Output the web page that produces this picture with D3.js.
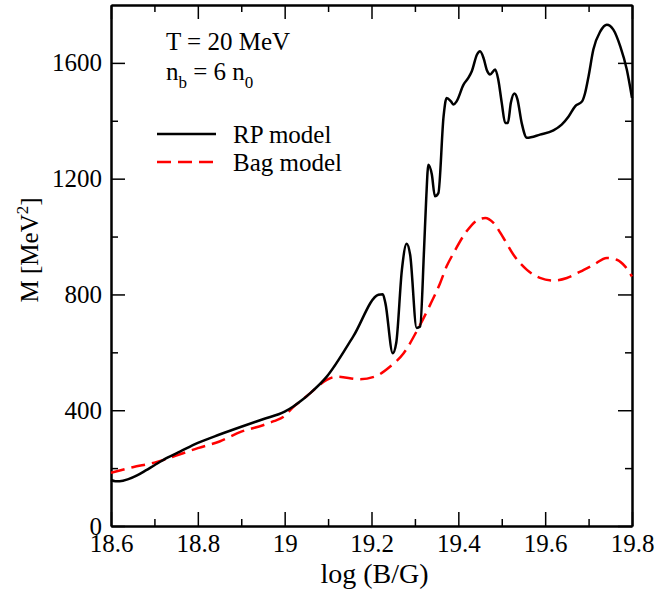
<!DOCTYPE html>
<html>
<head>
<meta charset="utf-8">
<script src="https://cdn.jsdelivr.net/npm/d3@7"></script>
<style>
  body { margin: 0; background: #fff; }
  text { font-family: "Liberation Serif", "Times New Roman", serif; }
</style>
</head>
<body>
<div id="chart"></div>
<script>
// RP model (black solid)
var rpX = [18.6, 18.61, 18.62, 18.64, 18.66, 18.68, 18.7, 18.73, 18.76, 18.8, 18.85, 18.9, 18.95, 19.0, 19.019, 19.04, 19.059, 19.097, 19.158, 19.216, 19.226, 19.232, 19.249, 19.257, 19.27, 19.281, 19.289, 19.304, 19.312, 19.321, 19.326, 19.331, 19.339, 19.346, 19.354, 19.366, 19.373, 19.383, 19.389, 19.396, 19.412, 19.423, 19.431, 19.443, 19.45, 19.458, 19.466, 19.473, 19.485, 19.492, 19.5, 19.508, 19.514, 19.521, 19.529, 19.536, 19.546, 19.558, 19.588, 19.619, 19.638, 19.654, 19.669, 19.685, 19.692, 19.7, 19.711, 19.727, 19.742, 19.757, 19.773, 19.788, 19.8]
var rpY = [159, 155, 155, 162, 175, 192, 210, 236, 258, 287, 316, 343, 369, 395, 412, 435, 459, 516, 655, 799, 801, 770, 597, 633, 885, 975, 937, 684, 689, 954, 1130, 1248, 1214, 1139, 1150, 1415, 1479, 1467, 1456, 1467, 1525, 1548, 1571, 1629, 1640, 1617, 1574, 1560, 1577, 1542, 1462, 1392, 1392, 1462, 1494, 1475, 1392, 1341, 1352, 1367, 1387, 1415, 1450, 1467, 1496, 1554, 1646, 1709, 1732, 1715, 1657, 1577, 1479]

// Bag model (red dashed)
var bagX = [18.6, 18.65, 18.7, 18.75, 18.8, 18.85, 18.9, 18.95, 18.975, 19.0, 19.019, 19.04, 19.059, 19.097, 19.12, 19.174, 19.212, 19.243, 19.274, 19.308, 19.335, 19.358, 19.373, 19.389, 19.419, 19.443, 19.462, 19.481, 19.504, 19.527, 19.558, 19.588, 19.619, 19.65, 19.681, 19.711, 19.742, 19.765, 19.784, 19.8]
var bagY = [184, 203, 219, 243, 269, 292, 326, 348, 362, 380, 410, 435, 459, 505, 516, 507, 519, 551, 597, 684, 764, 839, 897, 943, 1018, 1056, 1064, 1047, 995, 937, 885, 857, 848, 857, 879, 902, 926, 920, 897, 862]

var xTicks = [18.6, 18.8, 19, 19.2, 19.4, 19.6, 19.8]
var xMinor = [18.7, 18.9, 19.1, 19.3, 19.5, 19.7]
var yTicks = [0, 400, 800, 1200, 1600]
var yMinor = [200, 600, 1000, 1400]

var width = 657
	height = 595
	margin = {left: 111, right: 25, top: 5, bottom: 69}

var svg = d3.select("#chart")
	.append("svg")
	.attr("width", width)
	.attr("height", height)

var x = d3.scaleLinear()
	.domain([18.6, 19.8])
	.range([margin.left, width - margin.right])

var y = d3.scaleLinear()
	.domain([0, 1800])
	.range([height - margin.bottom, margin.top])

var fmt = function(d) { return String(d) }

// axes with inward ticks on all sides
function styleAxis(g) {
	g.attr("font-family", null).attr("font-size", null)
	g.selectAll("path").attr("stroke", "#000").attr("stroke-width", 2)
	g.selectAll("line").attr("stroke", "#000").attr("stroke-width", 1.5)
	g.selectAll("text").attr("font-size", 25).attr("fill", "#000")
}

svg.append("g")
	.attr("transform", "translate(0," + y(0) + ")")
	.call(d3.axisBottom(x).tickValues(xMinor).tickSize(-7).tickSizeOuter(0).tickFormat(""))
	.call(styleAxis)
svg.append("g")
	.attr("transform", "translate(0," + y(0) + ")")
	.call(d3.axisBottom(x).tickValues(xTicks).tickSize(-14).tickSizeOuter(0).tickPadding(8).tickFormat(fmt))
	.call(styleAxis)

svg.append("g")
	.attr("transform", "translate(0," + y(1800) + ")")
	.call(d3.axisTop(x).tickValues(xMinor).tickSize(-7).tickSizeOuter(0).tickFormat(""))
	.call(styleAxis)
svg.append("g")
	.attr("transform", "translate(0," + y(1800) + ")")
	.call(d3.axisTop(x).tickValues(xTicks).tickSize(-14).tickSizeOuter(0).tickFormat(""))
	.call(styleAxis)

svg.append("g")
	.attr("transform", "translate(" + x(18.6) + ",0)")
	.call(d3.axisLeft(y).tickValues(yMinor).tickSize(-7).tickSizeOuter(0).tickFormat(""))
	.call(styleAxis)
svg.append("g")
	.attr("transform", "translate(" + x(18.6) + ",0)")
	.call(d3.axisLeft(y).tickValues(yTicks).tickSize(-14).tickSizeOuter(0).tickPadding(9).tickFormat(fmt))
	.call(styleAxis)

svg.append("g")
	.attr("transform", "translate(" + x(19.8) + ",0)")
	.call(d3.axisRight(y).tickValues(yMinor).tickSize(-7).tickSizeOuter(0).tickFormat(""))
	.call(styleAxis)
svg.append("g")
	.attr("transform", "translate(" + x(19.8) + ",0)")
	.call(d3.axisRight(y).tickValues(yTicks).tickSize(-14).tickSizeOuter(0).tickFormat(""))
	.call(styleAxis)

// curves
var line = d3.line()
	.x(function(d) { return x(d[0]) })
	.y(function(d) { return y(d[1]) })
	.curve(d3.curveMonotoneX)

svg.append("path")
	.datum(d3.zip(bagX, bagY))
	.attr("d", line)
	.attr("fill", "none")
	.attr("stroke", "#ff0000")
	.attr("stroke-width", 2.5)
	.attr("stroke-dasharray", "14,7")

svg.append("path")
	.datum(d3.zip(rpX, rpY))
	.attr("d", line)
	.attr("fill", "none")
	.attr("stroke", "#000")
	.attr("stroke-width", 2.5)

// axis titles
svg.append("text")
	.attr("x", (x(18.6) + x(19.8)) / 2 + 3)
	.attr("y", 583)
	.attr("text-anchor", "middle")
	.attr("font-size", 28)
	.text("log (B/G)")

var yl = svg.append("text")
	.attr("transform", "translate(38,250) rotate(-90)")
	.attr("text-anchor", "middle")
	.attr("font-size", 25)
yl.append("tspan").text("M [MeV")
yl.append("tspan").attr("font-size", 17).attr("dy", -10).text("2")
yl.append("tspan").attr("dy", 10).text("]")

// annotations
svg.append("text")
	.attr("x", 166)
	.attr("y", 50)
	.attr("font-size", 25)
	.text("T = 20 MeV")

var nb = svg.append("text")
	.attr("x", 166)
	.attr("y", 80)
	.attr("font-size", 25)
nb.append("tspan").text("n")
nb.append("tspan").attr("font-size", 17).attr("dy", 8).text("b")
nb.append("tspan").attr("dy", -8).text(" = 6 n")
nb.append("tspan").attr("font-size", 17).attr("dy", 8).text("0")

// legend
var legend = [
	{name: "RP model", color: "#000", dash: null, y: 134},
	{name: "Bag model", color: "#ff0000", dash: "14,7", y: 162}
]
legend.forEach(function(d) {
	svg.append("line")
		.attr("x1", 157).attr("x2", 216)
		.attr("y1", d.y).attr("y2", d.y)
		.attr("stroke", d.color)
		.attr("stroke-width", 2.5)
		.attr("stroke-dasharray", d.dash)
	svg.append("text")
		.attr("x", 233)
		.attr("y", d.y + 9)
		.attr("font-size", 25)
		.text(d.name)
})
</script>
</body>
</html>
